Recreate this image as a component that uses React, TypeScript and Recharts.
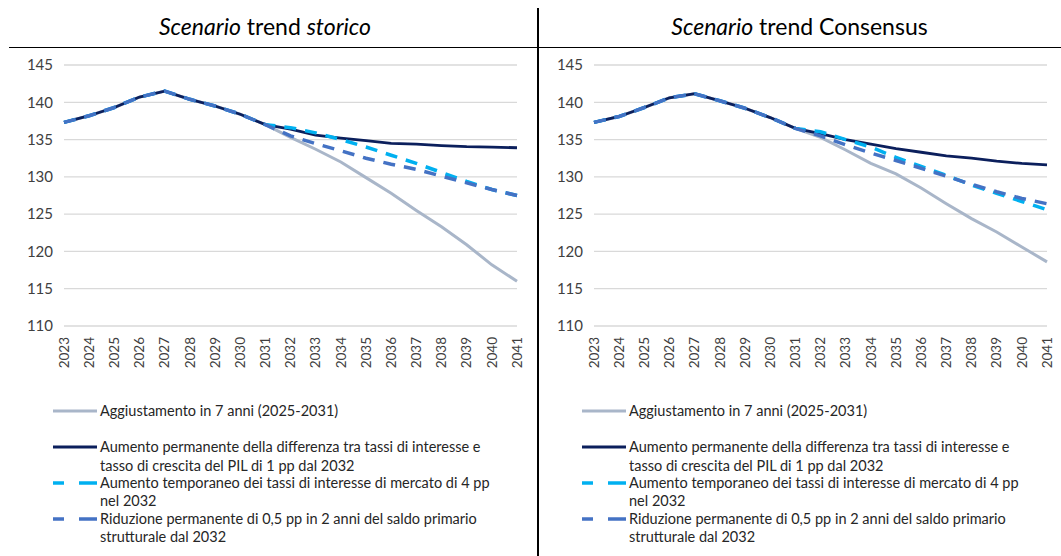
import React from 'react';
import { LineChart, Line, XAxis, YAxis, CartesianGrid } from 'recharts';

const YEARS = [
  '2023', '2024', '2025', '2026', '2027', '2028', '2029', '2030', '2031', '2032',
  '2033', '2034', '2035', '2036', '2037', '2038', '2039', '2040', '2041',
];
const Y_TICKS = [110, 115, 120, 125, 130, 135, 140, 145];

// Scenario trend storico
const STORICO_AGGIUST = [137.3, 138.2, 139.3, 140.7, 141.5, 140.4, 139.5, 138.4, 137.0, 135.3, 133.7, 132.0, 129.9, 127.8, 125.5, 123.3, 120.9, 118.2, 116.0];
const STORICO_DIFF = [137.3, 138.2, 139.3, 140.7, 141.5, 140.4, 139.5, 138.4, 137.0, 136.4, 135.6, 135.2, 134.85, 134.5, 134.4, 134.2, 134.05, 134.0, 133.9];
const STORICO_TEMP = [137.3, 138.2, 139.3, 140.7, 141.5, 140.4, 139.5, 138.4, 137.0, 136.6, 135.9, 135.0, 134.0, 132.9, 131.8, 130.6, 129.4, 128.3, 127.5];
const STORICO_RIDUZ = [137.3, 138.2, 139.3, 140.7, 141.5, 140.4, 139.5, 138.4, 137.0, 135.5, 134.45, 133.5, 132.5, 131.7, 131.0, 130.1, 129.2, 128.3, 127.5];

// Scenario trend Consensus
const CONSENSUS_AGGIUST = [137.3, 138.1, 139.3, 140.6, 141.15, 140.2, 139.2, 137.95, 136.5, 135.3, 133.6, 131.8, 130.4, 128.5, 126.4, 124.4, 122.6, 120.6, 118.6];
const CONSENSUS_DIFF = [137.3, 138.1, 139.3, 140.6, 141.15, 140.2, 139.2, 137.95, 136.5, 135.8, 135.0, 134.4, 133.8, 133.3, 132.8, 132.5, 132.1, 131.8, 131.6];
const CONSENSUS_TEMP = [137.3, 138.1, 139.3, 140.6, 141.15, 140.2, 139.2, 137.95, 136.5, 136.05, 135.0, 134.0, 132.6, 131.4, 130.2, 128.9, 127.8, 126.7, 125.6];
const CONSENSUS_RIDUZ = [137.3, 138.1, 139.3, 140.6, 141.15, 140.2, 139.2, 137.95, 136.5, 135.5, 134.3, 133.2, 132.2, 131.15, 130.1, 129.0, 128.0, 127.1, 126.4];

const LEGEND_LINES = [
  ['Aggiustamento in 7 anni (2025-2031)'],
  ['Aumento permanente della differenza tra tassi di interesse e', 'tasso di crescita del PIL di 1 pp dal 2032'],
  ['Aumento temporaneo dei tassi di interesse di mercato di 4 pp', 'nel 2032'],
  ['Riduzione permanente di 0,5 pp in 2 anni del saldo primario', 'strutturale dal 2032'],
];

const GRAY = '#A9B6C9';
const NAVY = '#0B1F5C';
const CYAN = '#00B0F0';
const BLUE = '#4472C4';
const FONT = 'Lato, "Liberation Sans", sans-serif';
const TEXT = '#404040';

const YearTick = ({ x, y, payload }: any) => (
  <text
    transform={`translate(${x},${y}) rotate(-90)`}
    textAnchor="end"
    dy="0.35em"
    fontSize={13.5}
    fontFamily={FONT}
    fill={TEXT}
  >
    {payload.value}
  </text>
);

const Panel = ({ left, series }: { left: number; series: number[][] }) => {
  const data = YEARS.map((year, i) => ({
    year,
    aggiust: series[0][i],
    diff: series[1][i],
    temp: series[2][i],
    riduz: series[3][i],
  }));
  return (
    <div style={{ position: 'absolute', left, top: 47 }}>
      <LineChart width={530} height={330} data={data} margin={{ top: 18, right: 13, left: 14, bottom: 0 }}>
        <CartesianGrid vertical={false} stroke="#D9D9D9" strokeWidth={1.3} />
        <XAxis
          dataKey="year"
          interval={0}
          axisLine={false}
          tickLine={false}
          tickSize={0}
          tickMargin={11}
          height={51}
          tick={<YearTick />}
        />
        <YAxis
          domain={[110, 145]}
          ticks={Y_TICKS}
          width={50}
          axisLine={false}
          tickLine={false}
          tickSize={0}
          tickMargin={11}
          tick={{ fontSize: 15, fontFamily: FONT, fill: TEXT }}
        />
        <Line dataKey="aggiust" stroke={GRAY} strokeWidth={3} dot={false} isAnimationActive={false} />
        <Line dataKey="diff" stroke={NAVY} strokeWidth={2.8} dot={false} isAnimationActive={false} />
        <Line dataKey="temp" stroke={CYAN} strokeWidth={3.5} strokeDasharray="12 9" dot={false} isAnimationActive={false} />
        <Line dataKey="riduz" stroke={BLUE} strokeWidth={3.5} strokeDasharray="12 9" dot={false} isAnimationActive={false} />
      </LineChart>
    </div>
  );
};

const LegendBox = ({ left }: { left: number }) => {
  const rows = [21, 57, 93, 129];
  const second = [0, 76, 111, 147];
  const colors = [GRAY, NAVY, CYAN, BLUE];
  return (
    <svg style={{ position: 'absolute', left, top: 390 }} width={530} height={166}>
      {LEGEND_LINES.map((lines, i) => (
        <g key={i}>
          {i < 2 ? (
            <line x1={53} x2={97} y1={rows[i]} y2={rows[i]} stroke={colors[i]} strokeWidth={3} />
          ) : (
            <g>
              <line x1={53} x2={64} y1={rows[i]} y2={rows[i]} stroke={colors[i]} strokeWidth={3.5} />
              <line x1={79} x2={97} y1={rows[i]} y2={rows[i]} stroke={colors[i]} strokeWidth={3.5} />
            </g>
          )}
          {lines.map((t, j) => (
            <text
              key={j}
              x={100}
              y={(j === 0 ? rows[i] : second[i]) + 5}
              fontSize={14.5}
              fontFamily={FONT}
              fill="#262626"
            >
              {t}
            </text>
          ))}
        </g>
      ))}
    </svg>
  );
};

const titleStyle: React.CSSProperties = {
  position: 'absolute',
  top: 8,
  height: 36,
  lineHeight: '36px',
  textAlign: 'center',
  fontFamily: FONT,
  fontSize: 23,
  color: '#000',
};

export default function App() {
  return (
    <div style={{ position: 'absolute', left: 0, top: 0, width: 1061, height: 556, background: '#fff' }}>
      <div style={{ ...titleStyle, left: 0, width: 530 }}>
        <i>Scenario</i> trend <i>storico</i>
      </div>
      <div style={{ ...titleStyle, left: 538, width: 523 }}>
        <i>Scenario</i> trend Consensus
      </div>
      <Panel left={0} series={[STORICO_AGGIUST, STORICO_DIFF, STORICO_TEMP, STORICO_RIDUZ]} />
      <Panel left={530} series={[CONSENSUS_AGGIUST, CONSENSUS_DIFF, CONSENSUS_TEMP, CONSENSUS_RIDUZ]} />
      <LegendBox left={0} />
      <LegendBox left={529} />
      <div style={{ position: 'absolute', left: 9, top: 47, width: 1052, height: 1.3, background: '#000' }} />
      <div style={{ position: 'absolute', left: 536.5, top: 8, width: 2, height: 548, background: '#000' }} />
    </div>
  );
}
